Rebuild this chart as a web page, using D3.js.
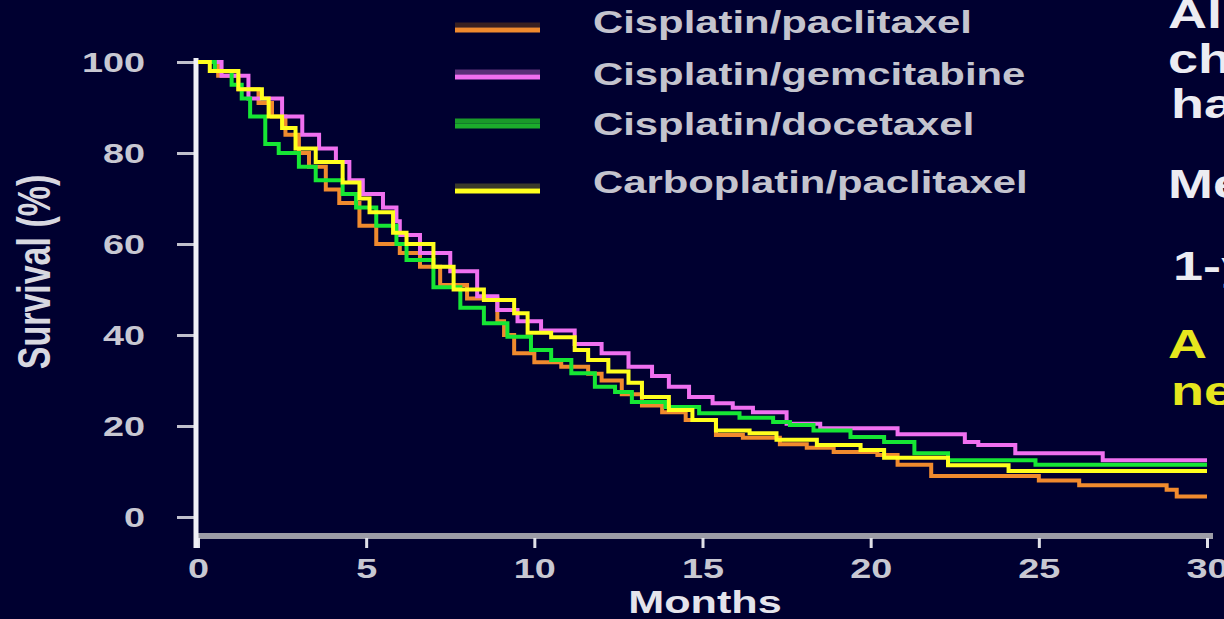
<!DOCTYPE html>
<html lang="en">
<head>
    <meta charset="UTF-8">
    <title>Survival by regimen</title>
    <script src="https://cdn.jsdelivr.net/npm/d3@7"></script>
    <style>
        body { margin: 0; background: #000030; overflow: hidden; }
        svg { display: block; }
        text { font-family: "Liberation Sans", Arial, sans-serif; font-weight: bold; }
    </style>
</head>
<body>
<div id="container"></div>
<script>
    // Kaplan-Meier steps: [month, survival %]
    const cisPaclitaxel = [[0,100],[0.6,97],[1.2,94],[1.8,91],[2.2,88],[2.6,84],[3.0,80],[3.3,77],[3.8,72],
        [4.2,69],[4.8,64],[5.3,60],[6.0,58],[6.6,55],[7.2,51],[8.0,48],[8.9,43],[9.1,40],[9.4,36],[10.0,34],
        [10.8,33],[11.6,31.5],[12.0,30],[12.6,27],[13.2,24.5],[13.8,23],[14.5,21.3],[15.4,18],[16.2,17.4],
        [17.3,16],[18.1,15.2],[18.9,14.3],[20.2,13.6],[20.8,11.5],[21.8,9],[25.0,8],[26.2,7],[28.8,6],
        [29.1,4.5],[30,4.5]];
    const cisGemcitabine = [[0,100],[0.7,97],[1.5,92],[2.5,88],[3.1,84],[3.6,81],[4.1,78],[4.5,74],[4.9,71],
        [5.5,68],[5.9,65],[6.0,62],[6.6,58],[7.5,54],[8.3,48.5],[8.9,45.5],[9.5,43],[10.2,41],[11.2,38],[12.0,36],
        [12.8,33],[13.5,31],[14.0,28.6],[14.6,26.4],[15.3,25],[15.9,24],[16.5,23],[17.5,20.5],[18.5,19.5],
        [20.8,18.2],[22.8,16.5],[23.2,15.8],[24.3,14],[26.9,12.5],[30,12.5]];
    const cisDocetaxel = [[0,100],[0.5,98],[1.0,95],[1.3,92],[1.55,88],[2.0,82],[2.4,80],[3.0,77],[3.5,74],
        [4.3,71],[4.7,68],[5.3,64],[5.9,60],[6.2,56.5],[7.0,50.5],[7.8,46],[8.5,42.6],[9.2,39.6],[9.9,36.7],
        [10.5,34.5],[11.1,31.6],[11.8,28.6],[12.4,27.5],[12.9,25.3],[13.9,24.2],[14.9,22.8],[16.1,21.8],
        [17.1,20.9],[17.6,20.2],[18.3,19],[19.4,17.6],[20.4,16.5],[21.3,14],[22.3,12.5],[24.9,11.5],[30,11.5]];
    const carboPaclitaxel = [[0,100],[0.35,98],[1.2,94],[1.9,92],[2.1,88],[2.5,85.5],[2.9,81],[3.5,78],
        [4.3,73.5],[4.8,70],[5.1,67],[5.8,62.5],[6.2,60],[7.0,55],[7.6,50],[8.5,47.7],[9.4,44.8],[9.8,40.5],
        [10.5,39.5],[11.2,36.7],[11.6,34.5],[12.2,32],[12.8,29.5],[13.2,26.4],[14.0,23.5],[14.7,21.3],
        [15.4,19],[16.4,18.4],[17.2,17],[18.4,15.8],[19.7,14.7],[20.4,13],[22.3,11.4],[24.1,10.1],[30,10.1]];

    const seriesNames = ["Cisplatin/paclitaxel", "Cisplatin/gemcitabine", "Cisplatin/docetaxel", "Carboplatin/paclitaxel"];
    const xTicks = [0, 5, 10, 15, 20, 25, 30];
    const yTicks = [0, 20, 40, 60, 80, 100];
    const sideNotes = ["All", "ch", "ha", "Me", "1-y", "A", "ne"];

    const series = [
        {name: seriesNames[0], values: cisPaclitaxel, color: "#f08a2e", legend: "#f08a2e", shade: "#3a2020", ly: 30, ty: 33},
        {name: seriesNames[1], values: cisGemcitabine, color: "#f070f0", legend: "#f070f0", shade: "#5a3078", ly: 77, ty: 85},
        {name: seriesNames[2], values: cisDocetaxel, color: "#16e634", legend: "#1cac2c", shade: "#1a9a2a", ly: 126, ty: 135},
        {name: seriesNames[3], values: carboPaclitaxel, color: "#ffff1e", legend: "#ffff1e", shade: "#3a3a2a", ly: 191, ty: 193}
    ];

    const W = 1224, H = 619;
    const stretch = 1.35; // slide text is widened horizontally

    const svg = d3.select("#container").append("svg")
        .attr("width", W)
        .attr("height", H);

    const x = d3.scaleLinear().domain([0, 30]).range([198, 1207]);
    const y = d3.scaleLinear().domain([0, 100]).range([517, 62]);

    // x axis bar
    svg.append("line")
        .attr("x1", 198).attr("x2", 1213)
        .attr("y1", 536).attr("y2", 536)
        .attr("stroke", "#9c9ca6").attr("stroke-width", 6);

    const xAxis = svg.append("g")
        .attr("transform", "translate(0,538)")
        .call(d3.axisBottom(x).tickValues(xTicks).tickSize(10).tickSizeOuter(0));
    xAxis.select(".domain").remove();
    xAxis.selectAll(".tick line").attr("stroke", "#e0e0e8").attr("stroke-width", 3);
    xAxis.selectAll(".tick text")
        .attr("y", null).attr("dy", null)
        .attr("transform", `translate(0,40) scale(${stretch},1)`)
        .attr("fill", "#c8c8d2")
        .style("font-size", "28px");

    // y axis
    const yAxis = svg.append("g")
        .attr("transform", "translate(196,0)")
        .call(d3.axisLeft(y).tickValues(yTicks).tickSize(19).tickSizeOuter(0));
    yAxis.select(".domain").remove();
    yAxis.selectAll(".tick line").attr("stroke", "#c0c0cc").attr("stroke-width", 3);
    yAxis.selectAll(".tick text")
        .attr("x", null).attr("dy", "0.35em")
        .attr("transform", `translate(-51,0) scale(${stretch},1)`)
        .attr("fill", "#c8c8d2")
        .style("font-size", "28px");

    svg.append("line")
        .attr("x1", 196).attr("x2", 196)
        .attr("y1", 58).attr("y2", 548)
        .attr("stroke", "#f0f0f6").attr("stroke-width", 5);

    // axis titles
    svg.append("text")
        .attr("transform", `translate(705,613) scale(${stretch},1)`)
        .attr("text-anchor", "middle")
        .attr("fill", "#e4e4ec")
        .style("font-size", "32px")
        .text("Months");

    svg.append("text")
        .attr("transform", `translate(50,272) scale(${stretch},1) rotate(-90)`)
        .attr("text-anchor", "middle")
        .attr("fill", "#d8d8e0")
        .style("font-size", "34px")
        .text("Survival (%)");

    // curves
    const line = d3.line()
        .x(d => x(d[0]))
        .y(d => y(d[1]))
        .curve(d3.curveStepAfter);

    svg.append("g").selectAll("path")
        .data(series)
        .enter().append("path")
        .attr("d", d => line(d.values))
        .attr("fill", "none")
        .attr("stroke", d => d.color)
        .attr("stroke-width", 4);

    // legend
    const legend = svg.append("g").selectAll("g")
        .data(series)
        .enter().append("g");

    legend.append("line")
        .attr("x1", 455).attr("x2", 540)
        .attr("y1", d => d.ly - 5).attr("y2", d => d.ly - 5)
        .attr("stroke", d => d.shade).attr("stroke-width", 5);
    legend.append("line")
        .attr("x1", 455).attr("x2", 540)
        .attr("y1", d => d.ly).attr("y2", d => d.ly)
        .attr("stroke", d => d.legend).attr("stroke-width", 5);
    legend.append("text")
        .attr("transform", d => `translate(593,${d.ty}) scale(${stretch},1)`)
        .attr("fill", "#c4c4ce")
        .style("font-size", "31px")
        .text(d => d.name);

    // notes cut off by the right edge of the slide
    const noteY = [28, 73, 118, 198, 280, 358, 405];
    const noteX = [1168, 1168, 1171, 1168, 1173, 1168, 1171];
    svg.append("g").selectAll("text")
        .data(sideNotes)
        .enter().append("text")
        .attr("transform", (d, i) => `translate(${noteX[i]},${noteY[i]}) scale(${stretch},1)`)
        .attr("fill", (d, i) => i >= 5 ? "#e6e61e" : "#ececf2")
        .style("font-size", "40px")
        .text(d => d);
</script>
</body>
</html>
